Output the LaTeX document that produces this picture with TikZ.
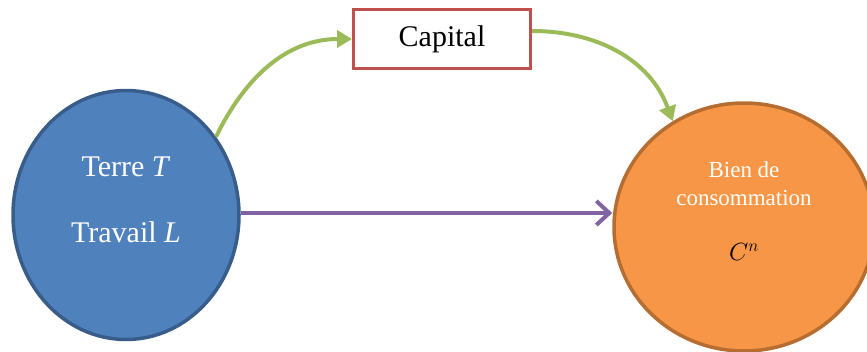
\documentclass[tikz,border=0pt]{standalone}
\usepackage{fontspec}
\setmainfont{Liberation Serif}
\usetikzlibrary{shapes.geometric, arrows.meta, positioning, calc}

\definecolor{blueF}{HTML}{4F81BD}
\definecolor{blueD}{HTML}{385D8A}
\definecolor{orangeF}{HTML}{F79646}
\definecolor{orangeD}{HTML}{B66D31}
\definecolor{redD}{HTML}{C0504D}
\definecolor{greenA}{HTML}{9BBB59}
\definecolor{purpleA}{HTML}{8064A2}

\begin{document}
\begin{tikzpicture}[x=1pt, y=-1pt,
  factor/.style={ellipse, draw, line width=3.5pt, inner sep=0pt},
  flow/.style={line width=4pt, greenA, -{Triangle[length=15pt,width=17pt]}}]
\useasboundingbox (0,0) rectangle (867,351);
\node[factor, fill=blueF, draw=blueD, minimum width=226pt, minimum height=249pt] (terre) at (126,215) {};
\node[factor, fill=orangeF, draw=orangeD, minimum width=260pt, minimum height=248pt] (bien) at (744,227) {};
\node[rectangle, draw=redD, line width=3pt, fill=white, minimum width=177pt, minimum height=59pt, font=\fontsize{30}{36}\selectfont] (capital) at (442,39) {Capital};

\node[text=white, font=\fontsize{30}{36}\selectfont, align=center] (facteurs) at (126,200) {Terre \textit{T}\\[30pt]Travail \textit{L}};
\node[text=white, font=\fontsize{23}{28}\selectfont, align=center] (produit) at (744,211) {Bien de\\consommation\\[27pt]\textcolor{black}{\fontsize{27}{30}\selectfont$C^n$}};

\draw[flow] (terre.41) to[out=64, in=180] (capital.west);
\draw[flow] ([yshift=8pt]capital.east) to[out=0, in=110] (bien.124);
\draw[line width=4pt, purpleA, -{Straight Barb[length=13pt,width=24pt]}] ([yshift=2pt]terre.east) -- ([yshift=2pt]terre.east -| bien.west);
\end{tikzpicture}
\end{document}
